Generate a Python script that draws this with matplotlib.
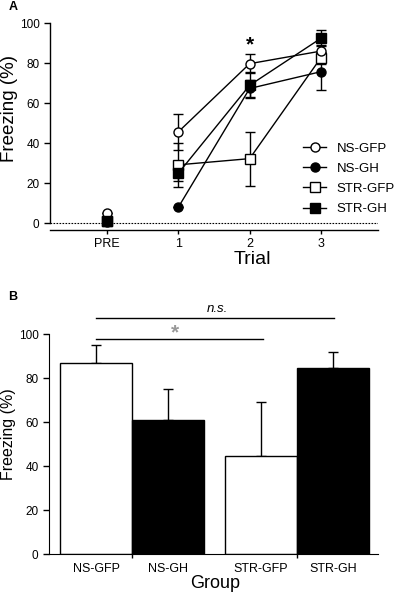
import numpy as np
import matplotlib
matplotlib.use("Agg")
import matplotlib.pyplot as plt

plt.rcParams['font.family'] = ['Liberation Sans', 'DejaVu Sans']

# ---- panel A data ----
trials = ["PRE", "1", "2", "3"]
ns_gfp = [5.0, 45.7, 79.8, 86.1]
ns_gfp_err = [0.0, 9.1, 4.6, 3.0]
ns_gh = [0.5, 8.0, 67.4, 75.8]
ns_gh_err = [0.0, 0.0, 4.2, 9.3]
str_gfp = [1.0, 29.2, 32.3, 82.8]
str_gfp_err = [0.0, 11.0, 13.5, 3.0]
str_gh = [1.0, 25.0, 69.0, 92.5]
str_gh_err = [0.0, 4.1, 6.5, 4.0]

# ---- panel B data ----
groups = ["NS-GFP", "NS-GH", "STR-GFP", "STR-GH"]
group_freezing = [86.8, 61.0, 44.8, 84.8]
group_err = [8.4, 14.0, 24.6, 7.3]
group_colors = ["white", "black", "white", "black"]

fig = plt.figure(figsize=(3.97, 5.96), dpi=100)
W, H = 397.0, 596.0

# ---------------- Panel A ----------------
ax1 = fig.add_axes([50 / W, 1 - 230 / H, 328 / W, 206.7 / H])
x = np.arange(len(trials))
series = [
    ("STR-GFP", str_gfp, str_gfp_err, "s", "white"),
    ("NS-GFP", ns_gfp, ns_gfp_err, "o", "white"),
    ("NS-GH", ns_gh, ns_gh_err, "o", "black"),
    ("STR-GH", str_gh, str_gh_err, "s", "black"),
]
mstyle = dict(color="black", lw=1.0, markersize=6.5, markeredgecolor="black",
              markeredgewidth=1.0, capsize=3.5, elinewidth=1.0, capthick=1.0,
              clip_on=False, zorder=3)
handles = {}
for name, vals, errs, mk, fc in series:
    # PRE is not connected to the training trials
    ax1.errorbar(x[:1], vals[:1], yerr=errs[:1], marker=mk,
                 markerfacecolor=fc, **mstyle)
    eb = ax1.errorbar(x[1:], vals[1:], yerr=errs[1:], marker=mk,
                      markerfacecolor=fc, **mstyle)
    handles[name] = eb.lines[0]

ax1.axhline(0, color="black", lw=0.8, ls=(0, (1.5, 1.2)), zorder=1)
ax1.set_xlim(-0.8, 3.8)
ax1.set_ylim(-3.4, 100)
ax1.set_yticks([0, 20, 40, 60, 80, 100])
ax1.set_xticks(x)
ax1.set_xticklabels(trials, fontsize=9)
ax1.tick_params(axis="y", labelsize=8.5, length=4.5, width=1.0, pad=3)
ax1.tick_params(axis="x", length=3, width=1.0, pad=3)
ax1.spines["top"].set_visible(False)
ax1.spines["right"].set_visible(False)
ax1.spines["left"].set_bounds(0, 100)
ax1.spines["left"].set_linewidth(1.0)
ax1.spines["bottom"].set_linewidth(1.0)
ax1.text(2, 89, "*", ha="center", va="center", fontsize=15, fontweight="bold")

leg_order = ["NS-GFP", "NS-GH", "STR-GFP", "STR-GH"]
ax1.legend([handles[n] for n in leg_order], leg_order, loc="upper left",
           bbox_to_anchor=(303 / W, 1 - 142.5 / H),
           bbox_transform=fig.transFigure, frameon=False, fontsize=9.5,
           handlelength=1.75, handletextpad=0.8, labelspacing=0.6,
           borderpad=0, borderaxespad=0)

fig.text(9.5 / W, 1 - 108 / H, "Freezing (%)", rotation=90, ha="center",
         va="center", fontsize=13.5)
fig.text(252 / W, 1 - 259 / H, "Trial", ha="center", va="center", fontsize=14)
fig.text(13 / W, 1 - 7 / H, "A", ha="center", va="center", fontsize=9,
         fontweight="bold")

# ---------------- Panel B ----------------
ax2 = fig.add_axes([49 / W, 1 - 554.3 / H, 329 / W, 220 / H])
pos = [0, 1, 2.29, 3.29]
ax2.bar(pos, group_freezing, width=1.0, color=group_colors, edgecolor="black",
        linewidth=1.0, zorder=2)
ax2.errorbar(pos, group_freezing, yerr=[[0] * 4, group_err], fmt="none",
             ecolor="black", elinewidth=1.0, capsize=3.5, capthick=1.0,
             zorder=1)
ax2.set_xlim(-0.655, 3.915)
ax2.set_ylim(0, 100)
ax2.set_yticks([0, 20, 40, 60, 80, 100])
ax2.set_xticks(pos)
ax2.set_xticklabels(groups, fontsize=9)
ax2.set_xticks([0.5, 2.79], minor=True)
ax2.tick_params(axis="x", which="major", length=0, pad=6)
ax2.tick_params(axis="x", which="minor", length=3, width=1.0)
ax2.tick_params(axis="y", labelsize=8.5, length=4.5, width=1.0, pad=3)
ax2.spines["top"].set_visible(False)
ax2.spines["right"].set_visible(False)

ax2.plot([0, 3.31], [107.3, 107.3], color="black", lw=1.0, clip_on=False)
ax2.text(1.68, 111.5, "n.s.", ha="center", va="center", fontsize=9.5,
         fontstyle="italic")
ax2.plot([0, 2.32], [97.9, 97.9], color="black", lw=1.0, clip_on=False)
ax2.text(1.10, 100.5, "*", ha="center", va="center", fontsize=15,
         fontweight="bold", color="#999999")

fig.text(9 / W, 1 - 434 / H, "Freezing (%)", rotation=90, ha="center",
         va="center", fontsize=11.5)
fig.text(214.7 / W, 1 - 584 / H, "Group", ha="center", va="center",
         fontsize=13)
fig.text(13 / W, 1 - 297 / H, "B", ha="center", va="center", fontsize=9,
         fontweight="bold")

fig.savefig("out.png", dpi=100)
